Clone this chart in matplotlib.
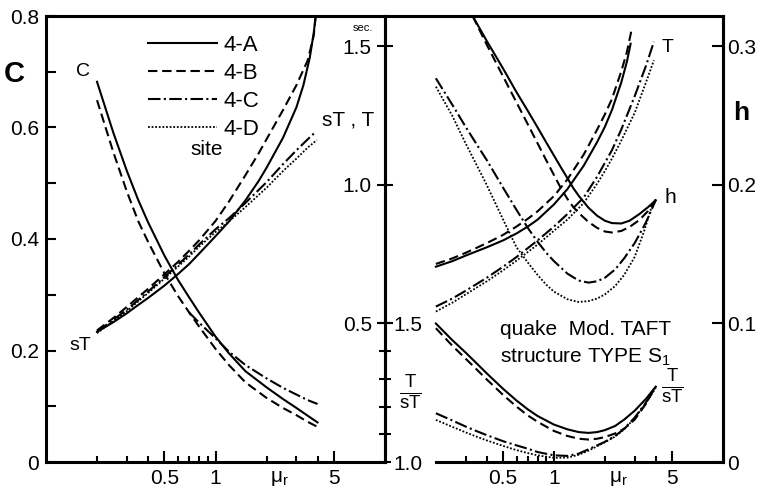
import numpy as np
import matplotlib
matplotlib.use('Agg')
import matplotlib.pyplot as plt
from matplotlib.ticker import NullFormatter

plt.rcParams['font.family'] = ['Liberation Sans', 'DejaVu Sans']
plt.rcParams['mathtext.fontset'] = 'custom'
plt.rcParams['mathtext.rm'] = 'Liberation Sans'
plt.rcParams['mathtext.it'] = 'Liberation Sans:italic'

# ---- left panel: C and sT against mu_r ----
c_a_mu = [0.2, 0.25, 0.3, 0.35, 0.4, 0.5, 0.6, 0.7, 0.8, 1.0, 1.2, 1.5, 2.0,
          2.5, 3.0, 3.5, 4.0]
c_a = [0.682, 0.59, 0.522, 0.47, 0.43, 0.37, 0.327, 0.295, 0.268, 0.225,
       0.195, 0.163, 0.134, 0.113, 0.097, 0.083, 0.071]
c_b_mu = [0.2, 0.25, 0.3, 0.35, 0.4, 0.5, 0.6, 0.7, 0.8, 1.0, 1.2, 1.5, 2.0,
          2.5, 3.0, 3.5, 4.0]
c_b = [0.649, 0.555, 0.485, 0.432, 0.395, 0.338, 0.298, 0.268, 0.243, 0.203,
       0.174, 0.143, 0.115, 0.097, 0.084, 0.072, 0.063]
c_c_mu = [0.7, 0.8, 1.0, 1.2, 1.5, 2.0, 2.5, 3.0, 3.5, 4.0]
c_c = [0.268, 0.25, 0.222, 0.198, 0.174, 0.150, 0.133, 0.121, 0.111, 0.104]

st_a_mu = [0.2, 0.25, 0.3, 0.35, 0.4, 0.5, 0.6, 0.7, 0.8, 1.0, 1.2, 1.5, 1.8,
           2.0, 2.5, 3.0, 3.3, 3.6, 3.8, 3.9]
st_a = [0.47, 0.505, 0.537, 0.567, 0.592, 0.637, 0.678, 0.715, 0.752, 0.815,
        0.868, 0.944, 1.015, 1.062, 1.17, 1.28, 1.36, 1.46, 1.55, 1.61]
st_b_mu = [0.2, 0.25, 0.3, 0.35, 0.4, 0.5, 0.6, 0.7, 0.8, 1.0, 1.2, 1.5, 1.8,
           2.0, 2.5, 3.0, 3.5, 3.8, 3.9]
st_b = [0.475, 0.52, 0.56, 0.595, 0.625, 0.678, 0.722, 0.763, 0.80, 0.87,
        0.94, 1.035, 1.115, 1.165, 1.27, 1.36, 1.45, 1.54, 1.61]
st_c_mu = [0.2, 0.3, 0.4, 0.5, 0.6, 0.7, 0.8, 1.0, 1.2, 1.5, 2.0, 2.5, 3.0,
           3.5, 3.9]
st_c = [0.47, 0.55, 0.615, 0.668, 0.712, 0.75, 0.785, 0.84, 0.88, 0.935,
        1.01, 1.075, 1.125, 1.165, 1.192]
st_d_mu = [0.2, 0.3, 0.4, 0.5, 0.6, 0.7, 0.8, 1.0, 1.2, 1.5, 2.0, 2.5, 3.0,
           3.5, 3.96]
st_d = [0.465, 0.545, 0.61, 0.662, 0.705, 0.742, 0.777, 0.83, 0.868, 0.92,
        0.99, 1.05, 1.095, 1.135, 1.162]

# ---- right panel: T (sec), h and T/sT ----
t_a_mu = [0.2, 0.25, 0.3, 0.4, 0.5, 0.6, 0.7, 0.8, 1.0, 1.2, 1.5, 1.8, 2.0,
          2.2, 2.5, 2.7, 2.84]
t_a = [0.705, 0.725, 0.745, 0.775, 0.80, 0.825, 0.85, 0.875, 0.93, 0.985,
       1.07, 1.155, 1.21, 1.27, 1.37, 1.445, 1.51]
t_b_mu = [0.2, 0.25, 0.3, 0.4, 0.5, 0.6, 0.7, 0.8, 1.0, 1.2, 1.5, 1.8, 2.0,
          2.2, 2.5, 2.7, 2.9]
t_b = [0.715, 0.735, 0.755, 0.79, 0.82, 0.85, 0.878, 0.905, 0.96, 1.02,
       1.11, 1.2, 1.255, 1.31, 1.41, 1.48, 1.57]
t_c_mu = [0.2, 0.25, 0.3, 0.4, 0.5, 0.6, 0.7, 0.8, 1.0, 1.2, 1.5, 1.8, 2.0,
          2.2, 2.5, 3.0, 3.5, 3.9]
t_c = [0.561, 0.59, 0.618, 0.665, 0.705, 0.74, 0.772, 0.80, 0.85, 0.895,
       0.955, 1.03, 1.08, 1.125, 1.2, 1.32, 1.43, 1.517]
t_d_mu = [0.2, 0.25, 0.3, 0.4, 0.5, 0.6, 0.7, 0.8, 1.0, 1.2, 1.5, 1.8, 2.0,
          2.2, 2.5, 3.0, 3.5, 3.9]
t_d = [0.543, 0.575, 0.605, 0.652, 0.692, 0.727, 0.758, 0.785, 0.835, 0.875,
       0.935, 1.005, 1.05, 1.095, 1.16, 1.26, 1.37, 1.45]

h_a_mu = [0.33, 0.4, 0.5, 0.6, 0.7, 0.8, 0.9, 1.0, 1.1, 1.2, 1.3, 1.4, 1.6,
          1.8, 2.0, 2.2, 2.5, 2.8, 3.2, 3.6, 4.0]
h_a = [0.322, 0.304, 0.284, 0.267, 0.2535, 0.2415, 0.2307, 0.2212, 0.2126,
       0.205, 0.1978, 0.1922, 0.1836, 0.1778, 0.1742, 0.1725, 0.1722, 0.1742,
       0.179, 0.184, 0.189]
h_b_mu = [0.33, 0.4, 0.5, 0.6, 0.7, 0.8, 0.9, 1.0, 1.1, 1.2, 1.3, 1.4, 1.6,
          1.8, 2.0, 2.2, 2.5, 2.8, 3.2, 3.6, 4.0]
h_b = [0.322, 0.3013, 0.2783, 0.2596, 0.2438, 0.23, 0.2178, 0.2071, 0.1975,
       0.19, 0.1841, 0.1798, 0.1733, 0.169, 0.1664, 0.1657, 0.1668, 0.1697,
       0.1747, 0.1812, 0.1895]
h_c_mu = [0.2, 0.25, 0.3, 0.35, 0.4, 0.5, 0.6, 0.7, 0.8, 0.9, 1.0, 1.2, 1.4,
          1.6, 1.8, 2.0, 2.3, 2.6, 3.0, 3.5, 4.0]
h_c = [0.277, 0.258, 0.242, 0.229, 0.218, 0.198, 0.182, 0.169, 0.159, 0.151,
       0.145, 0.136, 0.131, 0.1295, 0.1305, 0.133, 0.139, 0.147, 0.158,
       0.173, 0.189]
h_d_mu = [0.2, 0.25, 0.3, 0.35, 0.4, 0.5, 0.6, 0.7, 0.8, 0.9, 1.0, 1.2, 1.4,
          1.6, 1.8, 2.0, 2.3, 2.6, 3.0, 3.4, 3.8, 4.0]
h_d = [0.271, 0.25, 0.23, 0.214, 0.2, 0.175, 0.155, 0.144, 0.135, 0.128,
       0.123, 0.1175, 0.1155, 0.1162, 0.118, 0.121, 0.127, 0.135, 0.148,
       0.166, 0.185, 0.188]

r_a_mu = [0.2, 0.25, 0.3, 0.35, 0.4, 0.5, 0.6, 0.7, 0.8, 1.0, 1.2, 1.4, 1.6,
          1.8, 2.0, 2.3, 2.6, 3.0, 3.5, 4.0]
r_a = [1.50, 1.44, 1.395, 1.355, 1.32, 1.264, 1.222, 1.19, 1.166, 1.135,
       1.118, 1.108, 1.105, 1.108, 1.115, 1.13, 1.153, 1.185, 1.228, 1.272]
r_b_mu = [0.2, 0.25, 0.3, 0.35, 0.4, 0.5, 0.6, 0.7, 0.8, 1.0, 1.2, 1.4, 1.6,
          1.8, 2.0, 2.3, 2.6, 3.0, 3.5, 3.9]
r_b = [1.483, 1.42, 1.373, 1.333, 1.298, 1.242, 1.2, 1.168, 1.145, 1.112,
       1.094, 1.084, 1.081, 1.084, 1.09, 1.103, 1.12, 1.153, 1.21, 1.262]
r_c_mu = [0.2, 0.25, 0.3, 0.35, 0.4, 0.5, 0.6, 0.7, 0.8, 1.0, 1.2, 1.4, 1.6,
          1.8, 2.0, 2.3, 2.6, 3.0, 3.5, 4.0]
r_c = [1.176, 1.15, 1.128, 1.111, 1.097, 1.075, 1.06, 1.048, 1.036, 1.024,
       1.022, 1.03, 1.046, 1.06, 1.073, 1.094, 1.12, 1.16, 1.215, 1.272]
r_d_mu = [0.2, 0.25, 0.3, 0.35, 0.4, 0.5, 0.6, 0.7, 0.8, 1.0, 1.2, 1.4, 1.6,
          1.8, 2.0, 2.3, 2.6, 3.0, 3.5, 4.0]
r_d = [1.152, 1.127, 1.107, 1.091, 1.078, 1.058, 1.043, 1.032, 1.024, 1.015,
       1.016, 1.026, 1.041, 1.057, 1.071, 1.092, 1.118, 1.158, 1.213, 1.268]

sites = ['4-A', '4-B', '4-C', '4-D']
styles = [dict(ls='-', lw=1.5),
          dict(ls=(0, (4.5, 2.3)), lw=1.5),
          dict(ls=(0, (6, 1.6, 1, 1.6)), lw=1.5),
          dict(ls=(0, (1, 1)), lw=1.3)]

T_TOP = 1.61
FS = 15

fig = plt.figure(figsize=(7.64, 4.97), dpi=100)
ax1 = fig.add_axes([46 / 764, 35 / 497, 339 / 764, 446 / 497])
ax2 = fig.add_axes([385 / 764, 35 / 497, 338 / 764, 446 / 497])

for ax in (ax1, ax2):
    ax.set_xscale('log')
    ax.set_xlim(0.1, 10)
    for sp in ax.spines.values():
        sp.set_linewidth(2.2)
    ax.set_xticks([0.5, 1, 2.4, 5], labels=['0.5', '1', r'$\mathrm{\mu_r}$', '5'])
    ax.xaxis.set_minor_formatter(NullFormatter())
    ax.tick_params(axis='x', which='major', direction='in', length=8, width=1.5,
                   labelsize=FS, pad=5)
    ax.tick_params(axis='x', which='minor', direction='in', length=4.5, width=1.5)
    ax.xaxis.get_major_ticks()[2].tick1line.set_visible(False)

ax1.set_xticks([0.2, 0.3, 0.4, 0.6, 0.7, 0.8, 0.9, 2, 3, 4], minor=True)
ax2.set_xticks([0.3, 0.4, 0.6, 0.7, 0.8, 0.9, 2, 3, 4], minor=True)
ax2.spines['bottom'].set_bounds(0.2, 10)

# left panel, C scale
ax1.set_ylim(0, 0.8)
ax1.spines['right'].set_visible(False)
ax1.set_yticks(np.arange(0, 0.81, 0.1),
               labels=['0', '', '0.2', '', '0.4', '', '0.6', '', '0.8'])
ax1.tick_params(axis='y', direction='in', length=7, width=1.5, labelsize=FS, pad=5)

ax1.plot(c_a_mu, c_a, color='black', **styles[0])
ax1.plot(c_b_mu, c_b, color='black', **styles[1])
ax1.plot(c_c_mu, c_c, color='black', **styles[2])

# left panel, sT on the T scale
ax1t = ax1.twinx()
ax1t.set_ylim(0, T_TOP)
ax1t.set_axis_off()
handles = []
for mu, val, st, lab in zip([st_a_mu, st_b_mu, st_c_mu, st_d_mu],
                            [st_a, st_b, st_c, st_d], styles, sites):
    ln, = ax1t.plot(mu, val, color='black', label=lab, **st)
    handles.append(ln)

ax1.legend(handles=handles, loc='upper left', bbox_to_anchor=(0.301, 0.958),
           frameon=False, fontsize=16, borderpad=0, borderaxespad=0,
           handlelength=3.1, handletextpad=0.3, labelspacing=0.32)
ax1.text(0.475, 0.700, 'site', transform=ax1.transAxes, fontsize=15,
         ha='center', va='center')
ax1.text(0.166, 0.70, 'C', fontsize=14, ha='center', va='center')
ax1t.text(0.159, 0.422, 'sT', fontsize=14, ha='center', va='center')
ax1.text(0.891, 0.767, 'sT , T', transform=ax1.transAxes, fontsize=FS,
         ha='center', va='center')
ax1.text(0.935, 0.973, 'sec.', transform=ax1.transAxes, fontsize=8,
         ha='center', va='center')

# right panel, T scale on its left spine
ax2.set_ylim(0, T_TOP)
ax2.set_yticks([0.5, 1.0, 1.5], labels=['0.5', '1.0', '1.5'])
ax2.tick_params(axis='y', direction='inout', length=11, width=1.5,
                labelsize=FS, pad=4)

# T/sT scale, ticks on the same spine, labels inside
ax_r = ax2.twinx()
ax_r.set_ylim(1.0, 1.0 + T_TOP)
for k in ('left', 'top', 'bottom'):
    ax_r.spines[k].set_visible(False)
ax_r.spines['right'].set_position(('axes', 0))
ax_r.spines['right'].set_linewidth(2.2)
ax_r.set_yticks(np.arange(1.0, 1.51, 0.1),
                labels=['1.0', '', '', '', '', '1.5'])
ax_r.tick_params(axis='y', direction='inout', length=8, width=1.5,
                 labelsize=FS, pad=2)

# h scale on the right
ax_h = ax2.twinx()
ax_h.set_ylim(0, T_TOP / 5)
for k in ('left', 'top', 'bottom'):
    ax_h.spines[k].set_visible(False)
ax_h.spines['right'].set_linewidth(2.2)
ax_h.set_yticks([0, 0.1, 0.2, 0.3], labels=['0', '0.1', '0.2', '0.3'])
ax_h.tick_params(axis='y', direction='in', length=8, width=1.5,
                 labelsize=FS, pad=3)

for mu, val, st in zip([t_a_mu, t_b_mu, t_c_mu, t_d_mu],
                       [t_a, t_b, t_c, t_d], styles):
    ax2.plot(mu, val, color='black', **st)
for mu, val, st in zip([h_a_mu, h_b_mu, h_c_mu, h_d_mu],
                       [h_a, h_b, h_c, h_d], styles):
    ax_h.plot(mu, val, color='black', **st)
for mu, val, st in zip([r_a_mu, r_b_mu, r_c_mu, r_d_mu],
                       [r_a, r_b, r_c, r_d], styles):
    ax_r.plot(mu, val, color='black', **st)

ax2.text(4.67, 1.498, 'T', fontsize=14, ha='center', va='center')
ax_h.text(4.86, 0.191, 'h', fontsize=15, ha='center', va='center')
ax_r.text(4.98, 1.27, r'$\frac{\mathrm{T}}{\mathrm{sT}}$', fontsize=19,
          ha='center', va='center')
ax2.text(0.074, 0.155, r'$\frac{\mathrm{T}}{\mathrm{sT}}$', transform=ax2.transAxes,
         fontsize=19, ha='center', va='center')
ax2.text(0.34, 0.296, 'quake  Mod. TAFT', transform=ax2.transAxes, fontsize=FS,
         ha='left', va='center')
ax2.text(0.34, 0.235, r'structure TYPE S$_\mathrm{1}$', transform=ax2.transAxes,
         fontsize=FS, ha='left', va='center')

fig.text(14 / 764, 1 - 74 / 497, 'C', fontsize=21, fontweight='bold',
         ha='center', va='center')
fig.text(741 / 764, 1 - 113 / 497, 'h', fontsize=19, fontweight='bold',
         ha='center', va='center')

fig.savefig('out.png', dpi=100)
